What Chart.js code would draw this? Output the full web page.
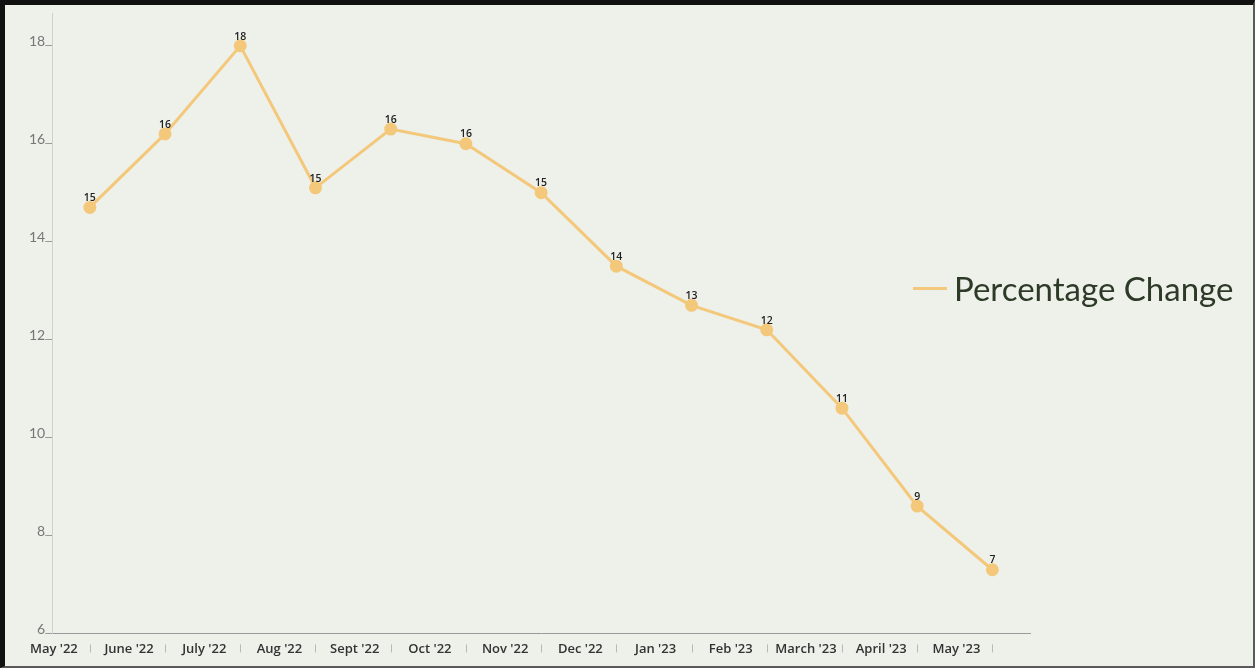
<!DOCTYPE html>
<html>
<head>
<meta charset="utf-8">
<script src="https://cdn.jsdelivr.net/npm/chart.js@4/dist/chart.umd.min.js"></script>
<style>
  html, body { margin: 0; padding: 0; background: #eef0ea; }
  #frame {
    position: absolute; left: 0; top: 0;
    width: 1255px; height: 668px; box-sizing: border-box;
    border-top: 5px solid #111; border-left: 5px solid #111;
    border-right: 2px solid #5a5a5a; border-bottom: 2px solid #5a5a5a;
    background: #eef0ea;
  }
  #wrap { position: relative; width: 1248px; height: 661px; }
  #legend {
    position: absolute; left: 908px; top: 263px;
    display: flex; align-items: center;
    font-family: Lato, sans-serif; font-size: 33px; color: #2e3a28;
  }
  #legend .swatch { display: inline-block; width: 34px; height: 3px; margin-right: 7px; }
</style>
</head>
<body>
<div id="frame">
  <div id="wrap">
    <canvas id="trend"></canvas>
    <div id="legend"></div>
  </div>
</div>
<script>
const months = ["May '22", "June '22", "July '22", "Aug '22", "Sept '22", "Oct '22", "Nov '22",
  "Dec '22", "Jan '23", "Feb '23", "March '23", "April '23", "May '23"];
const percentChange = [14.7, 16.2, 18.0, 15.1, 16.3, 16.0, 15.0, 13.5, 12.7, 12.2, 10.6, 8.6, 7.3];
const yTickValues = [6, 8, 10, 12, 14, 16, 18];

const lineColor = '#f4c87b';

// rounded value printed above each point
const pointLabels = {
  id: 'pointLabels',
  afterDatasetsDraw(chart) {
    const ctx = chart.ctx;
    const meta = chart.getDatasetMeta(0);
    ctx.save();
    ctx.font = '600 10.5px "Open Sans", sans-serif';
    ctx.fillStyle = '#222';
    ctx.textAlign = 'center';
    ctx.textBaseline = 'bottom';
    meta.data.forEach((pt, i) => {
      const v = chart.data.datasets[0].data[i];
      ctx.fillText(Math.round(v), pt.x, pt.y - 4);
    });
    ctx.restore();
  }
};

// small tick marks between the month labels
const monthTicks = {
  id: 'monthTicks',
  afterDraw(chart) {
    const x = chart.scales.x;
    const ctx = chart.ctx;
    ctx.save();
    ctx.strokeStyle = '#b8b8b8';
    ctx.lineWidth = 1;
    months.forEach((m, i) => {
      const px = Math.round(x.getPixelForValue(i)) + 0.5;
      ctx.beginPath();
      ctx.moveTo(px, x.top + 11);
      ctx.lineTo(px, x.top + 19);
      ctx.stroke();
    });
    ctx.restore();
  }
};

const htmlLegend = {
  id: 'htmlLegend',
  afterUpdate(chart) {
    const box = document.getElementById('legend');
    box.innerHTML = '';
    chart.options.plugins.legend.labels.generateLabels(chart).forEach((item) => {
      const sw = document.createElement('span');
      sw.className = 'swatch';
      sw.style.background = item.strokeStyle;
      const txt = document.createElement('span');
      txt.textContent = item.text;
      box.appendChild(sw);
      box.appendChild(txt);
    });
  }
};

new Chart(document.getElementById('trend'), {
  type: 'line',
  data: {
    labels: months,
    datasets: [{
      label: 'Percentage Change',
      data: percentChange,
      borderColor: lineColor,
      backgroundColor: lineColor,
      borderWidth: 3,
      pointRadius: 5,
      pointHoverRadius: 5,
      tension: 0
    }]
  },
  options: {
    responsive: true,
    maintainAspectRatio: false,
    animation: false,
    layout: { padding: { top: 2, left: 24, right: 223, bottom: 9 } },
    plugins: {
      legend: { display: false },
      tooltip: { enabled: false }
    },
    scales: {
      x: {
        offset: true,
        grid: { display: false },
        border: { color: '#9a9a9a', width: 1 },
        ticks: {
          color: '#333',
          font: { family: '"Open Sans"', size: 13, weight: '600' },
          padding: 0,
          labelOffset: -36,
          maxRotation: 0,
          autoSkip: false
        }
      },
      y: {
        min: 6,
        max: 18.67,
        afterBuildTicks: (axis) => { axis.ticks = yTickValues.map((v) => ({ value: v })); },
        grid: { drawOnChartArea: false, tickLength: 7, color: '#999' },
        border: { color: '#cfcfcf', width: 1 },
        ticks: {
          color: '#777',
          font: { family: 'Lato', size: 14, lineHeight: 0.4 },
          padding: 0,
          labelOffset: -4
        }
      }
    }
  },
  plugins: [pointLabels, monthTicks, htmlLegend]
});
</script>
</body>
</html>
